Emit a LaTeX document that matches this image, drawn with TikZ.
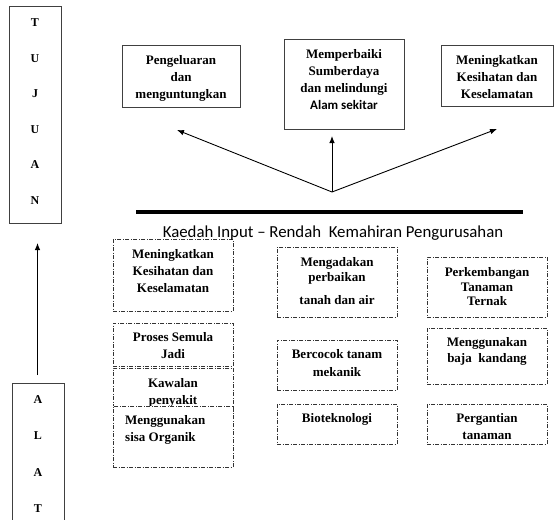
\documentclass[tikz,border=0pt]{standalone}
\usepackage{fontspec}
\setmainfont{Liberation Serif}
\newfontfamily\carlito{Carlito}
\usetikzlibrary{arrows.meta}
\begin{document}
\begin{tikzpicture}[x=1pt,y=-1pt,
  solidbox/.style={draw=black!75,line width=0.8pt,inner sep=0pt},
  dashbox/.style={draw=black!80,fill=white,line width=0.7pt,inner sep=0pt,
    dash pattern=on 4pt off 1.5pt on 1pt off 1.5pt},
  txt/.style={font=\fontsize{13}{17}\selectfont\bfseries,align=center,inner sep=0pt,anchor=north},
  letters/.style={font=\fontsize{12}{35.5}\selectfont\bfseries,align=center,inner sep=0pt,anchor=north},
  arr/.style={line width=0.9pt,-{Latex[length=7pt,width=5.5pt]}}]
\useasboundingbox (0,0) rectangle (556,519);
\clip (0,0) rectangle (556,519);
% side boxes
\node[solidbox,minimum width=52pt,minimum height=217pt] (tujuan) at (35,114.5) {};
\node[letters] (tujuantxt) at (35,18.5) {T\\U\\J\\U\\A\\N};
\node[solidbox,minimum width=52pt,minimum height=147pt] (alat) at (38,456.5) {};
\node[letters,font=\fontsize{12}{36.5}\selectfont\bfseries] (alattxt) at (38,395) {A\\L\\A\\T};
\coordinate (vstart) at (37.5,375);
\coordinate (vend) at (37.5,243);
\draw[arr] (vstart) -- (vend);
% top boxes
\node[solidbox,minimum width=118pt,minimum height=62pt] (g1) at (181,76) {};
\node[txt] (g1t) at (181,55.5) {Pengeluaran\\dan\\menguntungkan};
\node[solidbox,minimum width=120pt,minimum height=90pt] (g2) at (344,84) {};
\node[txt] (g2t) at (344,49.5) {Memperbaiki\\Sumberdaya\\dan melindungi\\{\carlito\bfseries Alam sekitar}};
\node[solidbox,minimum width=112pt,minimum height=61pt] (g3) at (497,75.5) {};
\node[txt] (g3t) at (497,55.5) {Meningkatkan\\Kesihatan dan\\Keselamatan};
% arrows
\coordinate (hub) at (332,192);
\coordinate (lt) at (177,130);
\coordinate (mt) at (332,136);
\coordinate (rt) at (497,129);
\draw[arr] (hub) -- (lt);
\draw[arr] (hub) -- (mt);
\draw[arr] (hub) -- (rt);
% thick line
\coordinate (ls) at (136,212);
\coordinate (le) at (523,212);
\draw[line width=4pt] (ls) -- (le);
% boxes
\node[dashbox,minimum width=120pt,minimum height=72pt] (a1) at (173,275) {};
\node[txt] (a1t) at (173,249.5) {Meningkatkan\\Kesihatan dan\\Keselamatan};
\node[dashbox,minimum width=120pt,minimum height=43pt] (a2) at (173,344.5) {};
\node[txt] (a2t) at (173,332.5) {Proses Semula\\Jadi};
\node[dashbox,minimum width=120pt,minimum height=44pt] (a3) at (173,390) {};
\node[txt] (a3t) at (173,378.5) {Kawalan\\penyakit};
\node[dashbox,minimum width=120pt,minimum height=61pt] (a4) at (173,436.5) {};
\node[txt,align=left,anchor=north west] (a4t) at (125,415.5) {Menggunakan\\sisa Organik};
\node[dashbox,minimum width=120pt,minimum height=70pt] (b1) at (337,282) {};
\node[txt,font=\fontsize{13}{15}\selectfont\bfseries] (b1t) at (337,257.5) {Mengadakan\\perbaikan\\[8pt]tanah dan air};
\node[dashbox,minimum width=120pt,minimum height=50pt] (b2) at (337,365) {};
\node[txt,font=\fontsize{13}{18}\selectfont\bfseries] (b2t) at (337,349.5) {Bercocok tanam\\mekanik};
\node[dashbox,minimum width=120pt,minimum height=40pt] (b3) at (337,424) {};
\node[txt] (b3t) at (337,413.5) {Bioteknologi};
\node[dashbox,minimum width=120pt,minimum height=60pt] (c1) at (487,287) {};
\node[txt,font=\fontsize{13}{14.5}\selectfont\bfseries] (c1t) at (487,267.5) {Perkembangan\\Tanaman\\Ternak};
\node[dashbox,minimum width=120pt,minimum height=56pt] (c2) at (487,356) {};
\node[txt,font=\fontsize{13}{16}\selectfont\bfseries] (c2t) at (487,337.5) {Menggunakan\\baja~ kandang};
\node[dashbox,minimum width=120pt,minimum height=40pt] (c3) at (487,424) {};
\node[txt] (c3t) at (487,413.5) {Pergantian\\tanaman};
% title
\node[font=\carlito\fontsize{16.8}{18}\selectfont,inner sep=0pt] (title) at (333,233) {Kaedah Input – Rendah~ Kemahiran Pengurusahan};
\end{tikzpicture}
\end{document}
